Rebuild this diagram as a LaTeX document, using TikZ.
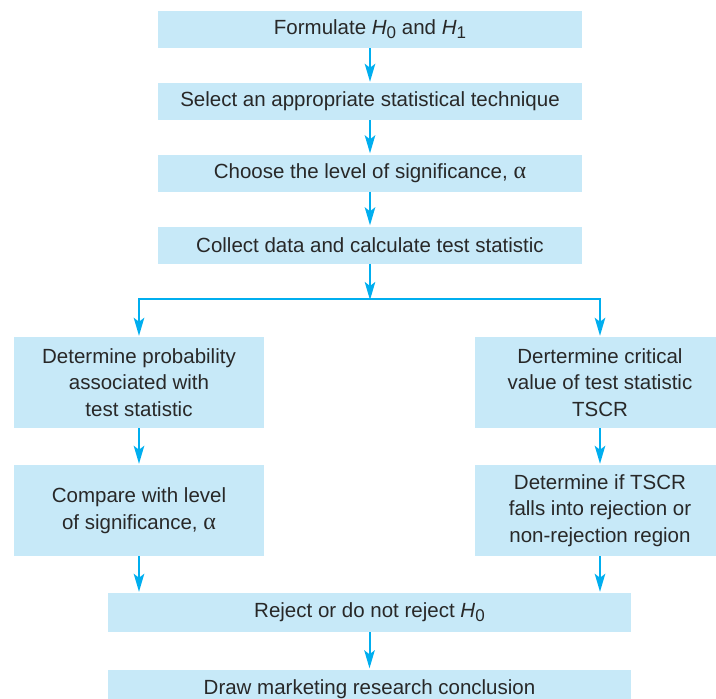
\documentclass[tikz,border=0pt]{standalone}
\usepackage{fontspec}
\setmainfont{Liberation Sans}
\newfontfamily\greekfont{Liberation Serif}
\usetikzlibrary{arrows.meta}
\definecolor{boxfill}{RGB}{199,233,248}
\definecolor{flow}{RGB}{0,174,239}
\definecolor{ink}{RGB}{40,40,40}
% hypothesis symbol: italic H with an upright lowered index
\newcommand{\hyp}[1]{\textit{H}\raisebox{-0.35ex}{\fontsize{17}{17}\selectfont #1}}
% upright alpha for the significance level
\newcommand{\siglevel}{{\greekfont\fontsize{24}{26.5}\selectfont α}}
\begin{document}
\begin{tikzpicture}[x=1pt,y=-1pt,
  stepbox/.style={fill=boxfill, draw=none, inner sep=0pt, text=ink, align=center,
                  font=\fontsize{20.5}{26.5}\selectfont},
  widebox/.style={stepbox, minimum width=424pt, minimum height=37pt},
  sidebox/.style={stepbox, minimum width=250pt, minimum height=91pt},
  lowbox/.style={stepbox, minimum width=523pt, minimum height=39pt},
  flowline/.style={draw=flow, line width=2pt},
  flowarrow/.style={flowline, shorten >=1pt, -{Stealth[length=18pt,width=10.5pt,inset=4pt]}}
]
\useasboundingbox (0,0) rectangle (716,699);

% main column
\node[widebox] (form) at (370,29.5)  {Formulate \hyp{0} and \hyp{1}};
\node[widebox] (tech) at (370,101.5) {Select an appropriate statistical technique};
\node[widebox] (sig)  at (370,173)   {Choose the level of significance, \siglevel};
\node[widebox] (data) at (370,245)   {Collect data and calculate test statistic};

% two branches
\node[sidebox] (prob) at (139,382.5) {Determine probability\\associated with\\test statistic};
\node[sidebox] (comp) at (139,510.5) {Compare with level\\of significance, \siglevel};
\node[sidebox] (crit) at (600,382.5) {Dertermine critical\\value of test statistic\\TSCR};
\node[sidebox] (fall) at (600,510.5) {Determine if TSCR\\falls into rejection or\\non-rejection region};

% joined end
\node[lowbox] (rej)  at (369.5,612.5) {Reject or do not reject \hyp{0}};
\node[lowbox] (conc) at (369.5,689)   {Draw marketing research conclusion};

\coordinate (fork) at (370,299);

\draw[flowarrow] (form) -- (tech);
\draw[flowarrow] (tech) -- (sig);
\draw[flowarrow] (sig)  -- (data);
\draw[flowline, shorten >=-1pt, -{Stealth[length=18pt,width=10.5pt,inset=4pt]}] (data) -- (fork);
\draw[flowarrow] (fork) -| (prob.north);
\draw[flowarrow] (fork) -| (crit.north);
\draw[flowarrow] (prob) -- (comp);
\draw[flowarrow] (crit) -- (fall);
\draw[flowarrow] (comp.south) -- (comp.south |- rej.north);
\draw[flowarrow] (fall.south) -- (fall.south |- rej.north);
\draw[flowarrow] (rej) -- (conc);
\end{tikzpicture}
\end{document}
